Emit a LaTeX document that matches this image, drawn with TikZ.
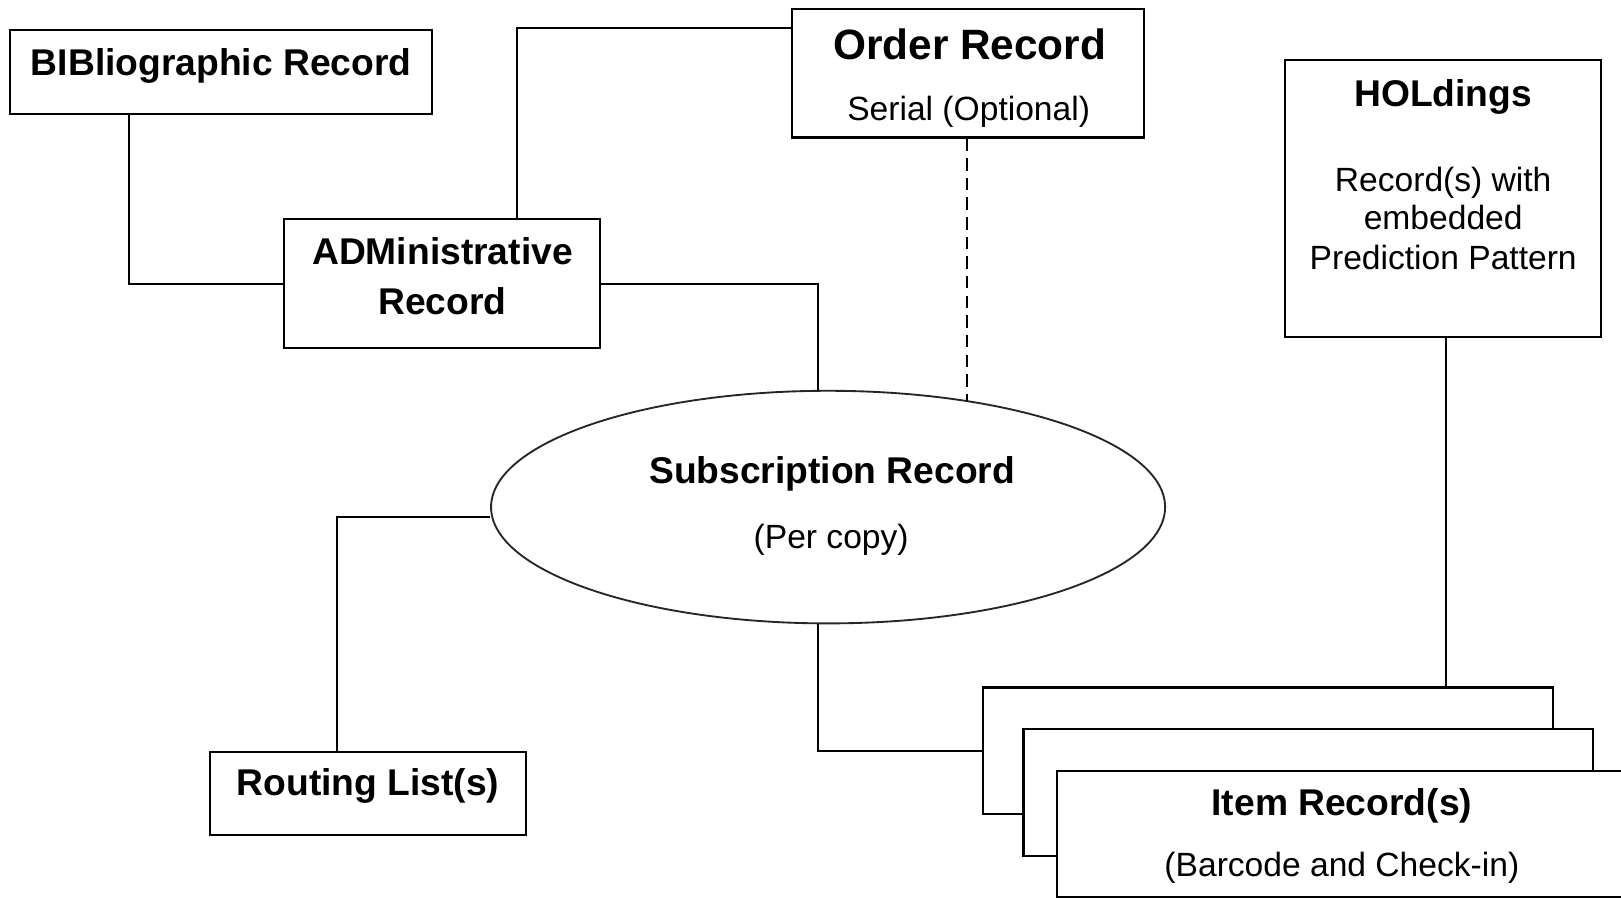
\documentclass[tikz,border=0pt]{standalone}
\usepackage{fontspec}
\setmainfont{Liberation Sans}
\usetikzlibrary{shapes.geometric,calc,fit}
\begin{document}
\begin{tikzpicture}[x=0.5pt,y=-0.5pt,
  box/.style={draw, line width=1pt, inner sep=0pt, fill=white},
  oval/.style={draw=black!85, line width=0.9pt, ellipse, inner sep=0pt},
  ttl/.style={font=\fontsize{18pt}{22pt}\bfseries, anchor=base, inner sep=0pt},
  ttlbig/.style={font=\fontsize{20.5pt}{24pt}\bfseries, anchor=base, inner sep=0pt},
  subtxt/.style={font=\fontsize{16.25pt}{19pt}\selectfont, anchor=base, inner sep=0pt},
  link/.style={line width=1pt},
  optlink/.style={line width=1pt, dash pattern=on 6pt off 3.5pt},
]
\clip (0,0) rectangle (1568,869);
\fill[white] (0,0) rectangle (1568,869);

% boxes
\node[box, fit={(10,29) (418,110)}] (bib) {};
\node[box, fit={(275,212) (580,337)}] (adm) {};
\node[box, fit={(766,9) (1107,133)}] (ord) {};
\node[box, fit={(1243,58) (1549,326)}] (hol) {};
\node[box, fit={(203,727) (509,808)}] (rout) {};
\node[oval, minimum width=326pt, minimum height=112.5pt] (sub) at (801,490.5) {};

% connectors
\draw[link] ($(bib.south west)+(116,0)$) |- (adm.west);
\draw[link] ($(adm.north west)+(226,0)$) |- ($(ord.north west)+(0,19)$);
\draw[link] (adm.east) -| ($(sub.north)+(-10,0)$);
\draw[optlink] ($(ord.south)+(-1.5,0)$) -- ($(ord.south |- sub.37.5)+(-1.5,0)$);
\draw[link] ($(sub.west)+(0,9.5)$) -| ($(rout.north west)+(124,0)$);

% item record stack
\node[box, fit={(951,665) (1502,787)}] (item1) {};
\node[box, fit={(990,705) (1541,828)}] (item2) {};
\node[box, fit={(1022,746) (1600,868)}] (item3) {};
\draw[link] ($(sub.south)+(-10,0)$) |- (item1.west);
\draw[link] ($(hol.south)+(3,0)$) -- ($(hol.south |- item1.north)+(3,0)$);

% texts
\node[ttl] (bibt) at (214,73) {BIBliographic Record};
\node[ttl] (admt1) at (428,256) {ADMinistrative};
\node[ttl] (admt2) at (428,304) {Record};
\node[ttlbig] (ordt1) at (938,58) {Order Record};
\node[subtxt] (ordt2) at (937,117) {Serial (Optional)};
\node[ttl] (holt1) at (1396,103) {HOLdings};
\node[subtxt] (holt2) at (1396,185) {Record(s) with};
\node[subtxt] (holt3) at (1396,222) {embedded};
\node[subtxt] (holt4) at (1396,261) {Prediction Pattern};
\node[ttl] (subt1) at (805,468) {Subscription Record};
\node[subtxt] (subt2) at (804,531) {(Per copy)};
\node[ttl] (routt) at (356,769) {Routing List(s)};
\node[ttl] (itemt1) at (1298,789) {Item Record(s)};
\node[subtxt] (itemt2) at (1298,848) {(Barcode and Check-in)};
\end{tikzpicture}
\end{document}
